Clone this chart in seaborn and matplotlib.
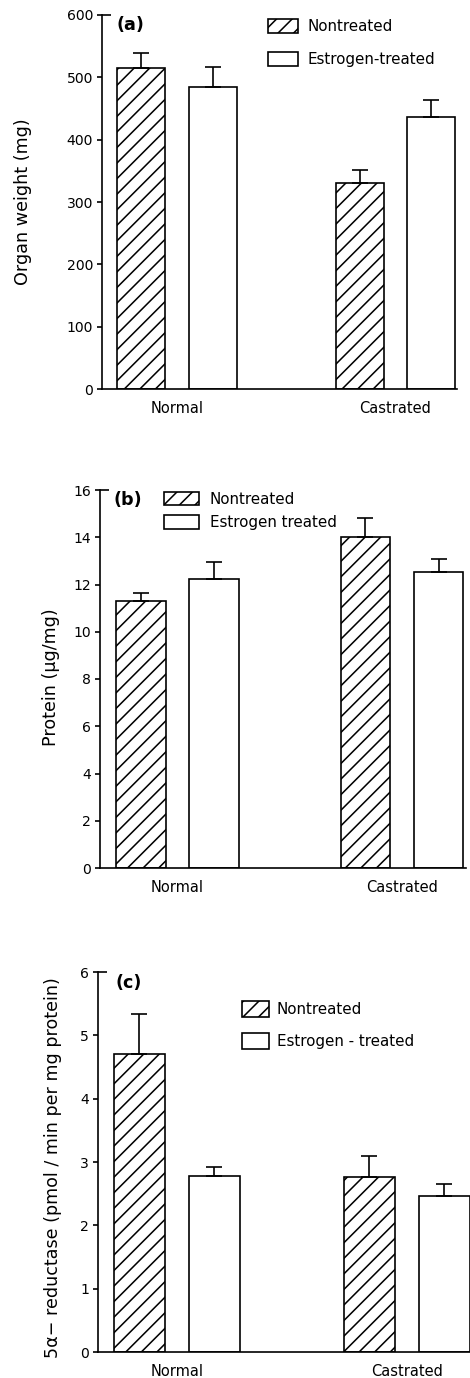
import matplotlib
matplotlib.use("Agg")
import matplotlib.pyplot as plt
import seaborn as sns
import pandas as pd
from matplotlib.patches import Patch

# ---------------- data ----------------
groups = ["Normal", "Castrated"]

names_a = ["Nontreated", "Estrogen-treated"]
weight_nontreated = [515, 330]
weight_estrogen = [485, 437]
weight_err_nontreated = [24, 22]
weight_err_estrogen = [31, 27]
weight_ticks = [0, 100, 200, 300, 400, 500, 600]

names_b = ["Nontreated", "Estrogen treated"]
protein_nontreated = [11.3, 14.0]
protein_estrogen = [12.25, 12.55]
protein_err_nontreated = [0.35, 0.83]
protein_err_estrogen = [0.70, 0.55]
protein_ticks = [0, 2, 4, 6, 8, 10, 12, 14, 16]

names_c = ["Nontreated", "Estrogen - treated"]
reductase_nontreated = [4.70, 2.77]
reductase_estrogen = [2.78, 2.46]
reductase_err_nontreated = [0.63, 0.33]
reductase_err_estrogen = [0.14, 0.19]
reductase_ticks = [0, 1, 2, 3, 4, 5, 6]

# ---------------- style ----------------
sns.set_theme(style="ticks")
plt.rcParams["font.family"] = ["DejaVu Sans"]
plt.rcParams["text.color"] = "black"
plt.rcParams["axes.labelcolor"] = "black"
plt.rcParams["xtick.color"] = "black"
plt.rcParams["ytick.color"] = "black"
plt.rcParams["axes.edgecolor"] = "black"
DPI = 140
LW = 0.85
HATCH = "///"
plt.rcParams["hatch.linewidth"] = 0.8
plt.rcParams["hatch.color"] = "black"
plt.rcParams["axes.linewidth"] = LW

fig = plt.figure(figsize=(470 / DPI, 1378 / DPI), dpi=DPI)
fig.patch.set_facecolor("white")

W, H = 470.0, 1378.0


def axes_px(left, right, top, bottom):
    return fig.add_axes([left / W, 1 - bottom / H, (right - left) / W, (bottom - top) / H])


def panel(ax, tag, names, non, est, enon, eest, ticks, ylabel, xlim,
          leg_anchor, leg_hl, leg_hh, leg_ls, leg_tp, ylab_x, ylab_y, tag_xy):
    df = pd.DataFrame({
        "group": groups * 2,
        "treatment": [names[0]] * 2 + [names[1]] * 2,
        "value": list(non) + list(est),
    })
    sns.barplot(data=df, x="group", y="value", hue="treatment", order=groups,
                hue_order=names, palette=["white", "white"], edgecolor="black",
                linewidth=LW, width=0.652, gap=0.325, errorbar=None,
                legend=False, saturation=1, ax=ax)
    errs = [enon, eest]
    bar_containers = list(ax.containers)
    for k, cont in enumerate(bar_containers):
        xs, hs = [], []
        for bar in cont.patches:
            if k == 0:
                bar.set_hatch(HATCH)
            xs.append(bar.get_x() + bar.get_width() / 2)
            hs.append(bar.get_height())
        ax.errorbar(xs, hs, yerr=[[0] * len(errs[k]), errs[k]], fmt="none",
                    ecolor="black", elinewidth=LW, capsize=4.3, capthick=LW,
                    zorder=5)
    ax.set_xlim(*xlim)
    ax.set_ylim(ticks[0], ticks[-1])
    ax.set_yticks(ticks)
    ax.set_yticklabels([str(t) for t in ticks], fontsize=7.2)
    ax.tick_params(axis="y", direction="out", length=2.6, width=LW, pad=2,
                   colors="black")
    ax.tick_params(axis="x", length=0, pad=6, labelsize=7.5, colors="black")
    ax.set_xlabel("")
    ax.set_ylabel(ylabel, fontsize=9, color="black")
    ax.yaxis.set_label_coords(ylab_x, ylab_y)
    sns.despine(ax=ax)
    # small stub at the top of the y axis
    ax.plot([0, 0.025], [1, 1], transform=ax.transAxes, color="black",
            lw=LW, clip_on=False, solid_capstyle="butt")
    ax.text(tag_xy[0], tag_xy[1], tag, transform=ax.transAxes, fontsize=9,
            fontweight="bold", ha="left", va="center", color="black")
    handles = [Patch(facecolor="white", edgecolor="black", hatch=HATCH, linewidth=LW),
               Patch(facecolor="white", edgecolor="black", linewidth=LW)]
    leg = ax.legend(handles, names, loc="upper left", bbox_to_anchor=leg_anchor,
                    frameon=False, fontsize=7.8, handlelength=leg_hl,
                    handleheight=leg_hh, labelspacing=leg_ls, handletextpad=leg_tp,
                    borderpad=0, borderaxespad=0)
    for t in leg.get_texts():
        t.set_color("black")


ax_a = axes_px(102, 457, 15, 389)
panel(ax_a, "(a)", names_a, weight_nontreated, weight_estrogen,
      weight_err_nontreated, weight_err_estrogen, weight_ticks,
      "Organ weight (mg)", (-0.344, 1.284),
      (0.468, 0.989), 2.0, 1.0, 1.2, 0.6, -0.197, 0.5, (0.042, 0.973))

ax_b = axes_px(100, 466, 490, 868)
panel(ax_b, "(b)", names_b, protein_nontreated, protein_estrogen,
      protein_err_nontreated, protein_err_estrogen, protein_ticks,
      "Protein (\u03bcg/mg)", (-0.345, 1.285),
      (0.175, 0.995), 2.3, 1.0, 0.55, 0.7, -0.109, 0.505, (0.036, 0.974))

ax_c = axes_px(98, 472, 972, 1352)
panel(ax_c, "(c)", names_c, reductase_nontreated, reductase_estrogen,
      reductase_err_nontreated, reductase_err_estrogen, reductase_ticks,
      "5\u03b1\u2212 reductase (pmol / min per mg protein)", (-0.343, 1.283),
      (0.385, 0.924), 1.8, 1.25, 1.05, 0.5, -0.096, 0.484, (0.048, 0.971))

fig.savefig("out.png", dpi=DPI, facecolor="white")
